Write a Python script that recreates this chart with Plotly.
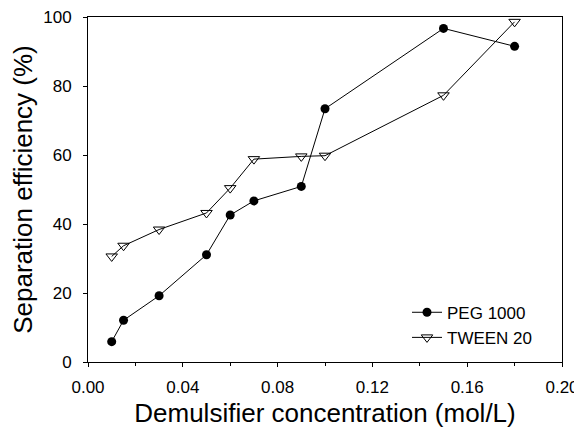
import plotly.graph_objects as go

conc = [0.01, 0.015, 0.03, 0.05, 0.06, 0.07, 0.09, 0.10, 0.15, 0.18]
peg_1000 = [5.9, 12.1, 19.2, 31.1, 42.6, 46.7, 50.9, 73.4, 96.7, 91.5]
tween_20 = [30.6, 33.7, 38.4, 43.2, 50.4, 58.8, 59.6, 59.8, 77.3, 98.6]

x_ticks = [0.00, 0.04, 0.08, 0.12, 0.16, 0.20]
x_tick_labels = ["0.00", "0.04", "0.08", "0.12", "0.16", "0.20"]
y_ticks = [0, 20, 40, 60, 80, 100]

FONT = "Liberation Sans, Arial, sans-serif"

fig = go.Figure()
fig.add_trace(go.Scatter(
    x=conc, y=peg_1000, mode="lines+markers", name="PEG 1000",
    line=dict(color="black", width=1),
    marker=dict(symbol="circle", size=9, color="black"),
))
fig.add_trace(go.Scatter(
    x=conc, y=tween_20, mode="lines+markers", name="TWEEN 20",
    line=dict(color="black", width=1),
    marker=dict(symbol="triangle-down-open", size=10, color="black", line=dict(width=1)),
))

# the page body has an 8px margin, so the figure is offset by 8px;
# size it so the page fits the 582x436 window exactly
fig.update_layout(
    width=574, height=420,
    margin=dict(l=80, r=20, t=9, b=66),
    paper_bgcolor="white", plot_bgcolor="white",
    font=dict(family=FONT, color="black", size=17),
    showlegend=True,
    legend=dict(x=0.673, y=0.195, xanchor="left", yanchor="top",
                bgcolor="rgba(0,0,0,0)", font=dict(size=17),
                tracegroupgap=0, itemwidth=30),
)
fig.update_xaxes(
    range=[0, 0.20], tickvals=x_ticks, ticktext=x_tick_labels,
    showgrid=False, zeroline=False, showline=True, linecolor="black", linewidth=1,
    mirror=True, ticks="outside", ticklen=4, tickcolor="black",
    ticklabelstandoff=6, automargin=False, ticklabeloverflow="allow",
    minor=dict(dtick=0.02, tick0=0, ticks="outside", ticklen=3, tickcolor="black"),
    title=dict(text="Demulsifier concentration (mol/L)", font=dict(size=26), standoff=14),
    tickfont=dict(size=17),
)
fig.update_yaxes(
    range=[0, 100], tickvals=y_ticks,
    showgrid=False, zeroline=False, showline=True, linecolor="black", linewidth=1,
    mirror=True, ticks="outside", ticklen=4, tickcolor="black",
    ticklabelstandoff=8, automargin=False, ticklabeloverflow="allow",
    title=dict(text="Separation efficiency (%)", font=dict(size=26), standoff=17),
    tickfont=dict(size=17),
)

fig.write_html("out.html")
